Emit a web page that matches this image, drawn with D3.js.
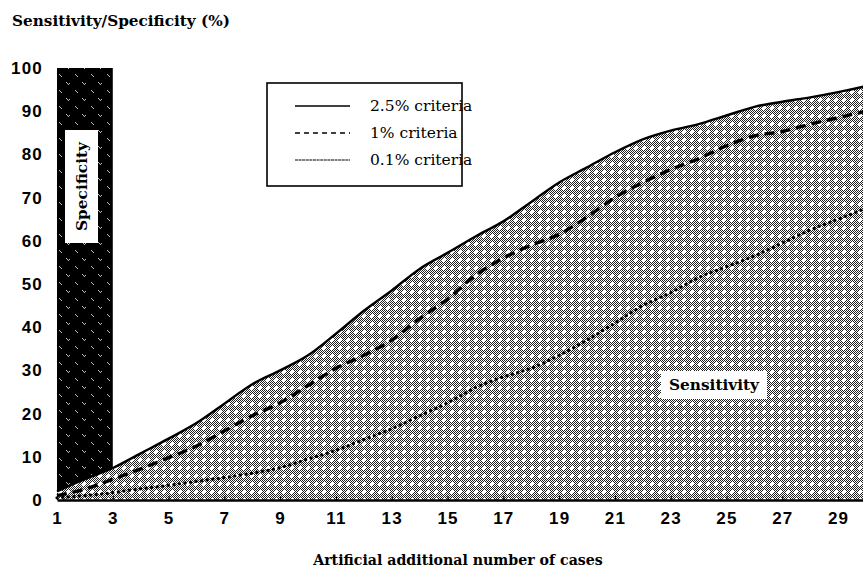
<!DOCTYPE html>
<html>
<head>
<meta charset="utf-8">
<script src="https://cdn.jsdelivr.net/npm/d3@7"></script>
<style>
  html, body { margin: 0; padding: 0; background: #fff; }
  svg { display: block; }
</style>
</head>
<body>
<svg id="chart" width="863" height="578"></svg>
<script>
// Artificial additional number of cases (x values)
const cases = [1, 2, 3, 4, 5, 6, 7, 8, 9, 10, 11, 12, 13, 14, 15,
               16, 17, 18, 19, 20, 21, 22, 23, 24, 25, 26, 27, 28, 29, 30];

// Sensitivity (%) under each criterion
const sens25 = [2.0, 4.8, 7.4, 10.8, 14.2, 17.8, 22.3, 26.8, 30.0, 33.5,
                38.5, 43.8, 48.5, 53.5, 57.2, 61.0, 64.5, 69.0, 73.5, 77.0,
                80.5, 83.5, 85.5, 87.0, 89.0, 91.0, 92.2, 93.2, 94.4, 95.8];
const sens10 = [1.0, 2.5, 4.8, 7.2, 9.8, 12.5, 16.0, 19.5, 22.5, 26.5,
                30.5, 33.5, 37.0, 42.0, 46.5, 52.0, 56.0, 59.0, 61.5, 65.5,
                70.0, 73.5, 76.5, 79.0, 82.0, 84.3, 85.3, 87.0, 88.5, 90.0];
const sens01 = [0.5, 1.0, 1.7, 2.6, 3.4, 4.3, 5.2, 6.2, 7.5, 9.5,
                11.5, 14.0, 16.5, 19.5, 22.5, 26.0, 28.5, 30.5, 33.5, 37.0,
                41.0, 45.0, 48.0, 51.5, 54.0, 56.5, 59.5, 62.5, 65.0, 67.5];

// Specificity bar: value and the case range it spans
const specificity = 100;
const specificityCases = [1, 3];

const xTickLabels = [1, 3, 5, 7, 9, 11, 13, 15, 17, 19, 21, 23, 25, 27, 29];
const yTickLabels = [0, 10, 20, 30, 40, 50, 60, 70, 80, 90, 100];
const legendLabels = ["2.5% criteria", "1% criteria", "0.1% criteria"];

const serif = "'DejaVu Serif', 'Liberation Serif', serif";
const sans = "'Liberation Sans', Arial, sans-serif";

const svg = d3.select("#chart");
const x = d3.scaleLinear().domain([1, 30]).range([57, 866]);
const y = d3.scaleLinear().domain([0, 100]).range([500, 68]);

// scale a text element's font so it spans the given width
function fitWidth(sel, width) {
  const n = sel.node();
  const w = n.getComputedTextLength();
  const fs = parseFloat(sel.attr("font-size"));
  if (w > 0) sel.attr("font-size", (fs * width / w).toFixed(2));
  return sel;
}

// ---- textures ----
const defs = svg.append("defs");

// halftone stipple for the sensitivity region
const stip = defs.append("pattern")
  .attr("id", "stipple").attr("patternUnits", "userSpaceOnUse")
  .attr("width", 8).attr("height", 8);
stip.append("rect").attr("width", 8).attr("height", 8).attr("fill", "#fff");
const stipPix = [];
for (let i = 0; i < 8; i++) for (let j = 0; j < 8; j++) {
  const hole = Math.abs(i - 3.5) + Math.abs(j - 3.5) < 2.6;
  if ((i + j) % 2 === 0 && !hole) stipPix.push([i, j]);
}
stip.selectAll("rect.p").data(stipPix).join("rect").attr("class", "p")
  .attr("x", d => d[0]).attr("y", d => d[1]).attr("width", 1).attr("height", 1)
  .attr("fill", "#222");

// dark hatch for the specificity bar
const dark = defs.append("pattern")
  .attr("id", "darkhatch").attr("patternUnits", "userSpaceOnUse")
  .attr("width", 16).attr("height", 16);
dark.append("rect").attr("width", 16).attr("height", 16).attr("fill", "#000");
const darkPix = [[2, 2], [3, 3], [4, 4], [5, 3], [11, 10], [12, 11], [13, 12]];
dark.selectAll("rect.p").data(darkPix).join("rect").attr("class", "p")
  .attr("x", d => d[0]).attr("y", d => d[1]).attr("width", 1).attr("height", 1)
  .attr("fill", "#bbb");

// ---- specificity bar ----
svg.append("rect")
  .attr("x", x(specificityCases[0]))
  .attr("y", y(specificity))
  .attr("width", x(specificityCases[1]) - x(specificityCases[0]))
  .attr("height", y(0) - y(specificity))
  .attr("fill", "url(#darkhatch)");

// ---- sensitivity region ----
const pts = v => cases.map((c, k) => [c, v[k]]);
const area = d3.area().x(d => x(d[0])).y0(y(0)).y1(d => y(d[1])).curve(d3.curveMonotoneX);
svg.append("path").datum(pts(sens25)).attr("d", area).attr("fill", "url(#stipple)");

// label inside the specificity bar
svg.append("rect").attr("x", 65).attr("y", 130).attr("width", 33).attr("height", 113)
  .attr("fill", "#fff");
fitWidth(svg.append("text")
  .attr("transform", "translate(82,186.5) rotate(-90)")
  .attr("text-anchor", "middle").attr("dominant-baseline", "central")
  .attr("font-family", serif).attr("font-weight", "bold").attr("font-size", 15)
  .attr("fill", "#000").text("Specificity"), 89);

// ---- curves ----
const line = d3.line().x(d => x(d[0])).y(d => y(d[1])).curve(d3.curveMonotoneX);
const styles = [
  { data: sens25, width: 2.4, dash: null, cap: "butt" },
  { data: sens10, width: 3.4, dash: "10,6", cap: "butt" },
  { data: sens01, width: 3.2, dash: "0.1,5.5", cap: "round" }
];
styles.forEach(s => {
  svg.append("path").datum(pts(s.data)).attr("d", line)
    .attr("fill", "none").attr("stroke", "#000")
    .attr("stroke-width", s.width).attr("stroke-linecap", s.cap)
    .attr("stroke-dasharray", s.dash);
});

// ---- axes ----
const xAxis = svg.append("g").attr("transform", `translate(0,${y(0)})`)
  .call(d3.axisBottom(x).tickValues(xTickLabels).tickSizeInner(-4).tickSizeOuter(0).tickPadding(12).tickFormat(d3.format("d")));
xAxis.select(".domain").attr("stroke", "#000").attr("stroke-width", 2.5);
xAxis.selectAll(".tick line").attr("stroke", "#000").attr("stroke-width", 1);
xAxis.selectAll(".tick text").attr("font-family", sans).attr("font-weight", "bold")
  .attr("font-size", 17).attr("letter-spacing", "1.2px").attr("fill", "#000");

const yAxis = svg.append("g").attr("transform", `translate(${x(1)},0)`)
  .call(d3.axisLeft(y).tickValues(yTickLabels).tickSize(0).tickPadding(14).tickFormat(d3.format("d")));
yAxis.select(".domain").remove();
yAxis.selectAll(".tick text").attr("font-family", sans).attr("font-weight", "bold")
  .attr("font-size", 17).attr("letter-spacing", "1.2px").attr("fill", "#000");

// ---- titles ----
fitWidth(svg.append("text").attr("x", 12).attr("y", 26)
  .attr("font-family", serif).attr("font-weight", "bold").attr("font-size", 15)
  .attr("fill", "#000").text("Sensitivity/Specificity (%)"), 218);

const xt = svg.append("text").attr("x", 458).attr("y", 565).attr("text-anchor", "middle")
  .attr("font-family", serif).attr("font-weight", "bold").attr("font-size", 15)
  .attr("fill", "#000").text("Artificial additional number of cases");
fitWidth(xt, 290);

// ---- sensitivity label ----
svg.append("rect").attr("x", 661).attr("y", 371).attr("width", 106).attr("height", 28).attr("fill", "#fff");
fitWidth(svg.append("text").attr("x", 714).attr("y", 385)
  .attr("text-anchor", "middle").attr("dominant-baseline", "central")
  .attr("font-family", serif).attr("font-weight", "bold").attr("font-size", 15)
  .attr("fill", "#000").text("Sensitivity"), 90);

// ---- legend ----
const lg = svg.append("g");
lg.append("rect").attr("x", 267).attr("y", 83).attr("width", 195).attr("height", 103)
  .attr("fill", "#fff").attr("stroke", "#000").attr("stroke-width", 1.6);
const legendStyles = [
  { width: 1.5, dash: null },
  { width: 1.5, dash: "5,4" },
  { width: 1.2, dash: "3,0.6" }
];
legendLabels.forEach((lab, i) => {
  const yy = 106 + i * 27;
  lg.append("line").attr("x1", 295).attr("x2", 350).attr("y1", yy).attr("y2", yy)
    .attr("stroke", "#000").attr("stroke-width", legendStyles[i].width)
    .attr("stroke-dasharray", legendStyles[i].dash);
  lg.append("text").attr("x", 370).attr("y", yy).attr("dominant-baseline", "central")
    .attr("font-family", serif).attr("font-size", 15.5).attr("fill", "#000").text(lab);
});
</script>
</body>
</html>
